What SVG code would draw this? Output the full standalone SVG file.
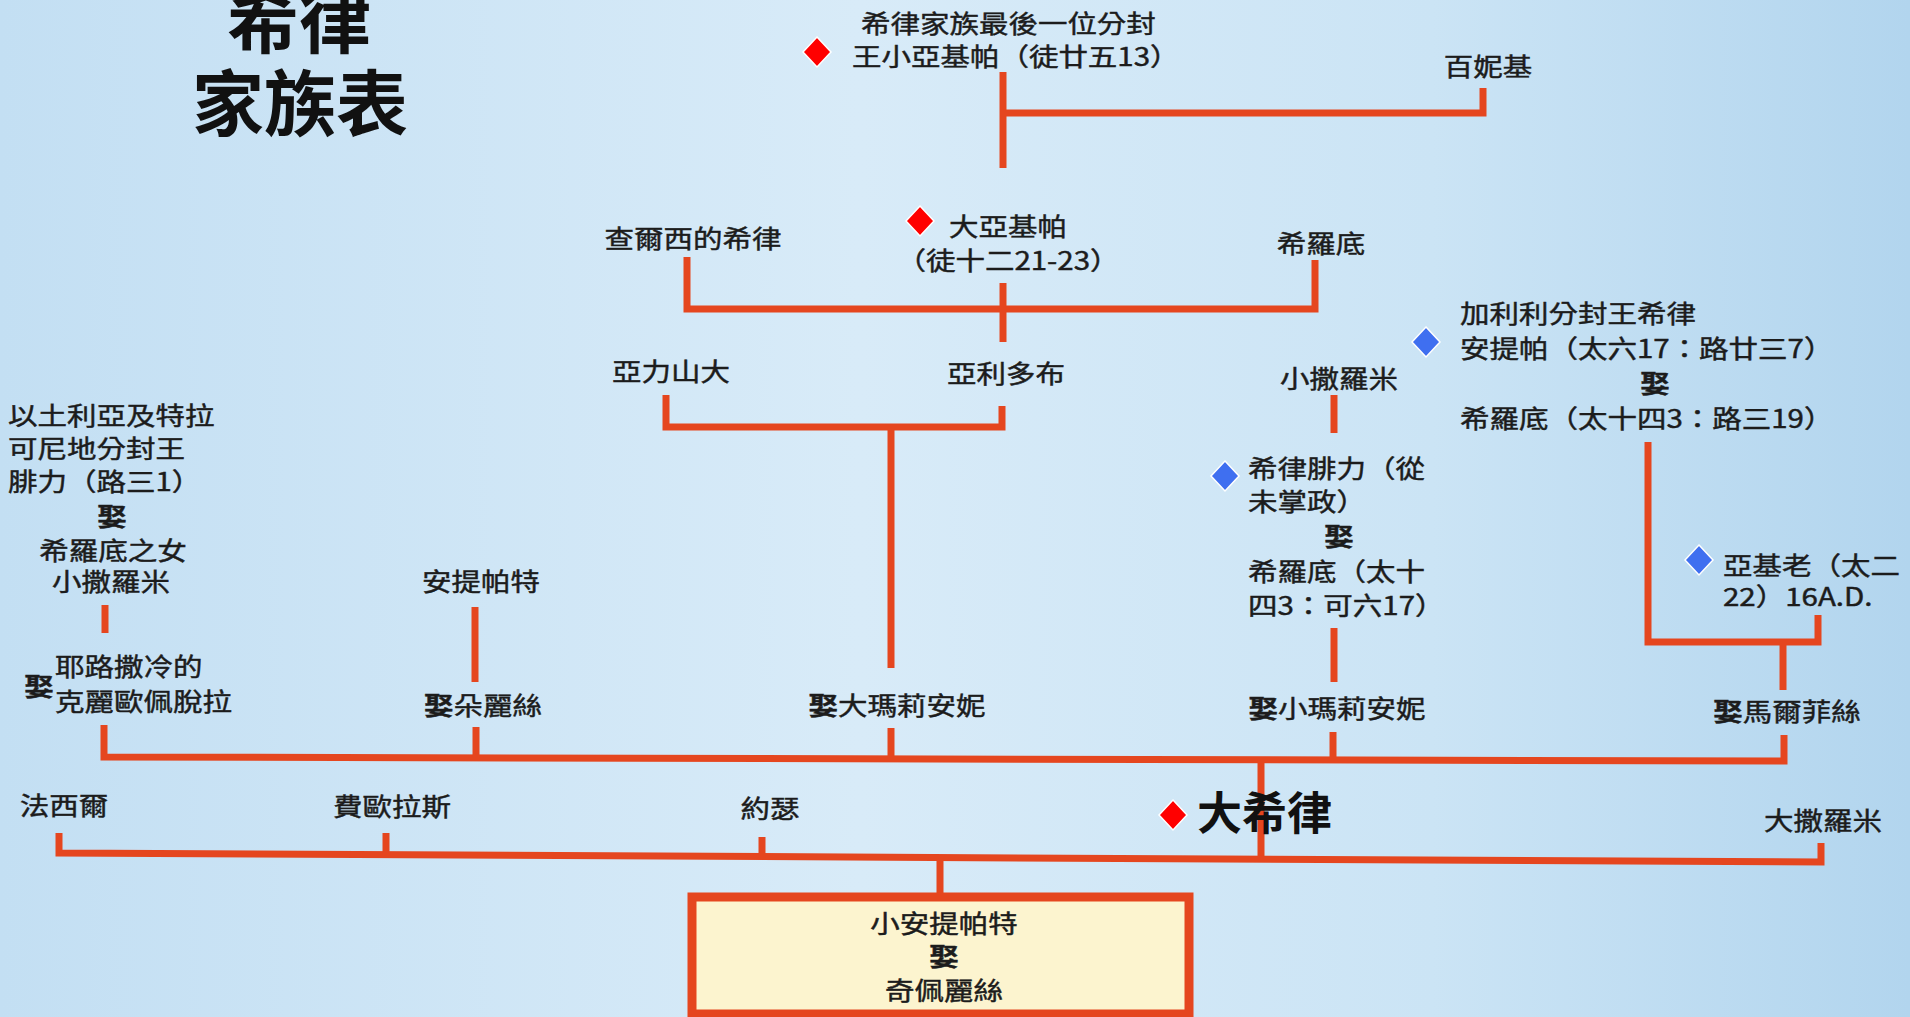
<svg xmlns="http://www.w3.org/2000/svg" width="1910" height="1017" viewBox="0 0 1910 1017">
<defs>
<linearGradient id="bg" x1="0" y1="0" x2="1" y2="0">
<stop offset="0" stop-color="#c3dff3"/>
<stop offset="0.45" stop-color="#d8ebf8"/>
<stop offset="0.75" stop-color="#cbe4f5"/>
<stop offset="1" stop-color="#b2d5ee"/>
</linearGradient>
<polygon id="dia" points="0,-15 14,0 0,15 -14,0"/>
</defs>
<style>
.t{font-family:"Noto Sans CJK TC","Noto Sans CJK SC",sans-serif;font-size:25px;fill:#1c1c1c;stroke:#1c1c1c;stroke-width:0.45}
.m{text-anchor:middle}
.b{font-weight:700}
.title{font-family:"Noto Sans CJK TC",sans-serif;font-size:72px;font-weight:700;fill:#111;text-anchor:middle}
.big{font-family:"Noto Sans CJK TC",sans-serif;font-size:45px;font-weight:700;fill:#111}
.ln{fill:none;stroke:#e5461f;stroke-width:7;stroke-linecap:butt;stroke-linejoin:miter}
.red{fill:#ff0000;stroke:#fff;stroke-width:1.5}
.blue{fill:#3f6ff0;stroke:#fff;stroke-width:1.5}
.box{fill:#fcf4cf;stroke:#e5461f;stroke-width:9}
</style>
<rect width="1910" height="1017" fill="url(#bg)"/>

<g id="title">
<text class="title" x="299" y="47">希律</text>
<text class="title" x="300" y="130">家族表</text>
</g>

<g id="connectors">
<path class="ln" d="M1003,72 V168"/>
<path class="ln" d="M1003,113 H1483 V88"/>
<path class="ln" d="M687,257 V309 H1315 V260"/>
<path class="ln" d="M1003,283 V342"/>
<path class="ln" d="M666,395 V427 H1002 V406"/>
<path class="ln" d="M891,427 V668"/>
<path class="ln" d="M1334,395 V433"/>
<path class="ln" d="M1334,628 V682"/>
<path class="ln" d="M1648,442 V642 H1818 V615"/>
<path class="ln" d="M1783,642 V690"/>
<path class="ln" d="M105,605 V633"/>
<path class="ln" d="M475,607 V682"/>
<path class="ln" d="M104,725 V757 L1784,761 V735"/>
<path class="ln" d="M476,727 V758"/>
<path class="ln" d="M891,728 V759"/>
<path class="ln" d="M1333,732 V760"/>
<path class="ln" d="M1261,760 V860"/>
<path class="ln" d="M59,833 V853 L1821,862 V843"/>
<path class="ln" d="M386,833 V856"/>
<path class="ln" d="M762,837 V858"/>
<path class="ln" d="M940,857 V897"/>
</g>

<g id="n_agrippa2">
<use href="#dia" class="red" x="817" y="52"/>
<text class="t" transform="translate(861,33) scale(1.18,1)">希律家族最後一位分封</text>
<text class="t" transform="translate(852,66) scale(1.18,1)">王小亞基帕（徒廿五13）</text>
</g>
<g id="n_bernice"><text class="t m" transform="translate(1488,76) scale(1.18,1)">百妮基</text></g>
<g id="n_herod_chalcis"><text class="t m" transform="translate(693,248) scale(1.18,1)">查爾西的希律</text></g>
<g id="n_agrippa1">
<use href="#dia" class="red" x="920" y="221"/>
<text class="t m" transform="translate(1008,236) scale(1.18,1)">大亞基帕</text>
<text class="t m" transform="translate(1008,270) scale(1.18,1)">（徒十二21-23）</text>
</g>
<g id="n_herodias_top"><text class="t m" transform="translate(1321,253) scale(1.18,1)">希羅底</text></g>
<g id="n_antipas">
<use href="#dia" class="blue" x="1426" y="342"/>
<text class="t" transform="translate(1460,323) scale(1.18,1)">加利利分封王希律</text>
<text class="t" transform="translate(1460,358) scale(1.18,1)">安提帕（太六17：路廿三7）</text>
<text class="t m b" transform="translate(1655,393) scale(1.18,1)">娶</text>
<text class="t" transform="translate(1460,428) scale(1.18,1)">希羅底（太十四3：路三19）</text>
</g>
<g id="n_alexander"><text class="t m" transform="translate(671,381) scale(1.18,1)">亞力山大</text></g>
<g id="n_aristobulus"><text class="t m" transform="translate(1006,383) scale(1.18,1)">亞利多布</text></g>
<g id="n_salome_r"><text class="t m" transform="translate(1339,388) scale(1.18,1)">小撒羅米</text></g>
<g id="n_philip1">
<use href="#dia" class="blue" x="1225" y="476"/>
<text class="t" transform="translate(1248,478) scale(1.18,1)">希律腓力（從</text>
<text class="t" transform="translate(1248,511) scale(1.18,1)">未掌政）</text>
<text class="t m b" transform="translate(1339,546) scale(1.18,1)">娶</text>
<text class="t" transform="translate(1248,581) scale(1.18,1)">希羅底（太十</text>
<text class="t" transform="translate(1248,615) scale(1.18,1)">四3：可六17）</text>
</g>
<g id="n_archelaus">
<use href="#dia" class="blue" x="1699" y="560"/>
<text class="t" transform="translate(1723,575) scale(1.18,1)">亞基老（太二</text>
<text class="t" transform="translate(1723,606) scale(1.18,1)">22）16A.D.</text>
</g>
<g id="n_philip2">
<text class="t" transform="translate(8,425) scale(1.18,1)">以土利亞及特拉</text>
<text class="t" transform="translate(8,458) scale(1.18,1)">可尼地分封王</text>
<text class="t" transform="translate(8,491) scale(1.18,1)">腓力（路三1）</text>
<text class="t m b" transform="translate(112,526) scale(1.18,1)">娶</text>
<text class="t m" transform="translate(113,560) scale(1.18,1)">希羅底之女</text>
<text class="t m" transform="translate(111,591) scale(1.18,1)">小撒羅米</text>
</g>
<g id="n_antipater"><text class="t m" transform="translate(481,591) scale(1.18,1)">安提帕特</text></g>
<g id="n_cleopatra">
<text class="t m b" transform="translate(39,696) scale(1.18,1)">娶</text>
<text class="t" transform="translate(55,676) scale(1.18,1)">耶路撒冷的</text>
<text class="t" transform="translate(55,711) scale(1.18,1)">克麗歐佩脫拉</text>
</g>
<g id="n_doris"><text class="t m" transform="translate(483,715) scale(1.18,1)"><tspan class="b">娶</tspan>朵麗絲</text></g>
<g id="n_mariamne1"><text class="t m" transform="translate(897,715) scale(1.18,1)"><tspan class="b">娶</tspan>大瑪莉安妮</text></g>
<g id="n_mariamne2"><text class="t m" transform="translate(1337,718) scale(1.18,1)"><tspan class="b">娶</tspan>小瑪莉安妮</text></g>
<g id="n_malthace"><text class="t m" transform="translate(1787,721) scale(1.18,1)"><tspan class="b">娶</tspan>馬爾菲絲</text></g>
<g id="n_phasael"><text class="t m" transform="translate(64,815) scale(1.18,1)">法西爾</text></g>
<g id="n_pheroras"><text class="t m" transform="translate(392,816) scale(1.18,1)">費歐拉斯</text></g>
<g id="n_joseph"><text class="t m" transform="translate(770,818) scale(1.18,1)">約瑟</text></g>
<g id="n_herod">
<use href="#dia" class="red" x="1173" y="815"/>
<text class="big" x="1197" y="830">大希律</text>
</g>
<g id="n_salome"><text class="t m" transform="translate(1823,830) scale(1.18,1)">大撒羅米</text></g>
<g id="n_antipater2">
<rect class="box" x="692" y="897" width="497" height="117"/>
<text class="t m" transform="translate(944,933) scale(1.18,1)">小安提帕特</text>
<text class="t m b" transform="translate(944,966) scale(1.18,1)">娶</text>
<text class="t m" transform="translate(944,1000) scale(1.18,1)">奇佩麗絲</text>
</g>
</svg>
